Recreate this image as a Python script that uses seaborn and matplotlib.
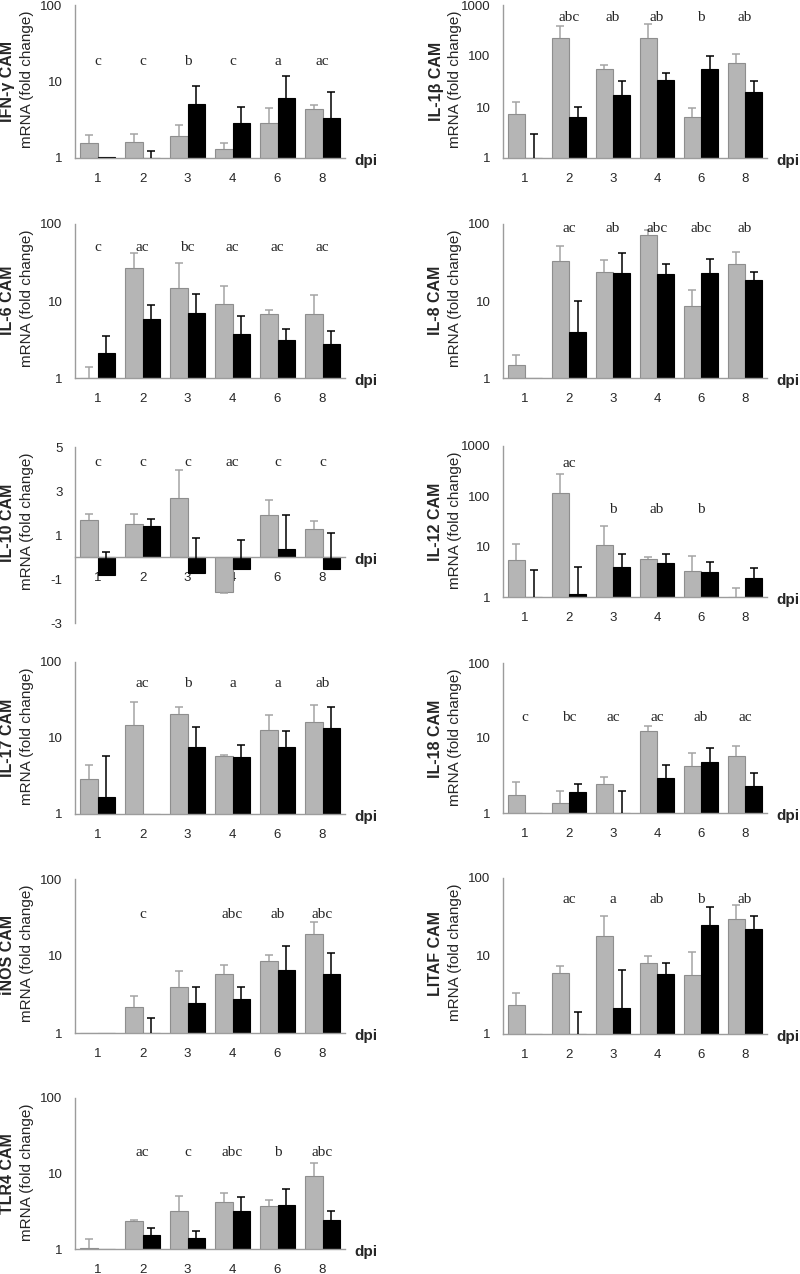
import numpy as np
import pandas as pd
import matplotlib.pyplot as plt
import seaborn as sns
from matplotlib.ticker import NullLocator

days = ['1', '2', '3', '4', '6', '8']

# bar heights and tops of the error bars (fold change)
ifng_grey = [1.56, 1.6, 1.95, 1.31, 2.9, 4.37]
ifng_grey_top = [2.0, 2.05, 2.7, 1.59, 4.45, 4.9]
ifng_black = [1.02, 1.0, 5.1, 2.83, 6.1, 3.3]
ifng_black_top = [np.nan, 1.25, 8.7, 4.65, 11.8, 7.4]
ifng_letters = ['c', 'c', 'b', 'c', 'a', 'ac']

il1b_grey = [7.2, 226, 55, 226, 6.4, 72]
il1b_grey_top = [12.7, 383, 67, 427, 9.7, 110]
il1b_black = [1.0, 6.4, 17.5, 34, 55, 20]
il1b_black_top = [3.0, 9.8, 33, 47, 100, 33]
il1b_letters = ['', 'abc', 'ab', 'ab', 'b', 'ab']

il6_grey = [1.0, 26.8, 14.7, 9.2, 6.8, 6.8]
il6_grey_top = [1.41, 42, 31, 15.5, 7.55, 12]
il6_black = [2.11, 5.8, 7.0, 3.68, 3.14, 2.73]
il6_black_top = [3.47, 9.0, 12.3, 6.3, 4.37, 4.1]
il6_letters = ['c', 'ac', 'bc', 'ac', 'ac', 'ac']

il8_grey = [1.46, 33.5, 23.5, 71, 8.5, 30]
il8_grey_top = [2.0, 52, 34, 83, 13.7, 43]
il8_black = [1.0, 4.0, 23, 22.4, 23, 18.7]
il8_black_top = [np.nan, 10.1, 42, 30, 35.5, 23.6]
il8_letters = ['', 'ac', 'ab', 'abc', 'abc', 'ab']

il10_grey = [1.7, 1.49, 2.68, -1.59, 1.9, 1.29]
il10_grey_top = [1.97, 1.94, 3.94, -1.64, 2.58, 1.64]
il10_black = [-0.83, 1.43, -0.73, -0.56, 0.35, -0.53]
il10_black_top = [0.23, 1.75, 0.86, 0.76, 1.91, 1.11]
il10_letters = ['c', 'c', 'c', 'ac', 'c', 'c']

il12_grey = [5.5, 115, 10.8, 5.65, 3.3, 1.0]
il12_grey_top = [11.2, 275, 25.8, 6.3, 6.4, 1.5]
il12_black = [1.0, 1.15, 4.0, 4.8, 3.1, 2.4]
il12_black_top = [3.4, 3.9, 7.1, 7.1, 4.9, 3.8]
il12_letters = ['', 'ac', 'b', 'ab', 'b', '']

il17_grey = [2.86, 14.8, 20.5, 5.8, 12.7, 16.4]
il17_grey_top = [4.45, 29.5, 25.8, 5.97, 20, 27]
il17_black = [1.67, 1.0, 7.5, 5.57, 7.5, 13.6]
il17_black_top = [5.8, np.nan, 14.1, 8.1, 12.4, 25.3]
il17_letters = ['', 'ac', 'b', 'a', 'a', 'ab']

il18_grey = [1.72, 1.38, 2.46, 12.4, 4.2, 5.7]
il18_grey_top = [2.6, 1.95, 3.0, 14.3, 6.3, 7.8]
il18_black = [1.01, 1.9, 1.0, 2.96, 4.8, 2.27]
il18_black_top = [np.nan, 2.4, 1.96, 4.4, 7.35, 3.4]
il18_letters = ['c', 'bc', 'ac', 'ac', 'ab', 'ac']

inos_grey = [1.0, 2.18, 3.9, 5.9, 8.7, 19.3]
inos_grey_top = [np.nan, 3.0, 6.4, 7.7, 10.4, 27.6]
inos_black = [1.01, 1.0, 2.45, 2.79, 6.6, 5.9]
inos_black_top = [np.nan, 1.57, 3.95, 3.95, 13.3, 11.1]
inos_letters = ['', 'c', '', 'abc', 'ab', 'abc']

litaf_grey = [2.33, 6.1, 18, 8.2, 5.7, 29.5]
litaf_grey_top = [3.36, 7.4, 32.6, 10, 11.3, 44.6]
litaf_black = [1.01, 1.0, 2.15, 5.95, 25.2, 22.4]
litaf_black_top = [np.nan, 1.9, 6.55, 8.2, 42, 33]
litaf_letters = ['', 'ac', 'a', 'ab', 'b', 'ab']

tlr4_grey = [1.03, 2.37, 3.2, 4.23, 3.74, 9.35]
tlr4_grey_top = [1.36, 2.4, 5.1, 5.5, 4.45, 13.8]
tlr4_black = [1.01, 1.55, 1.4, 3.2, 3.86, 2.4]
tlr4_black_top = [np.nan, 1.87, 1.71, 4.9, 6.3, 3.15]
tlr4_letters = ['', 'ac', 'c', 'abc', 'b', 'abc']

GREY = '#b5b5b5'
GREY_EDGE = '#8e8e8e'
GREY_ERR = '#a4a4a4'
AXIS = '#9c9c9c'

sns.set_style('white')
plt.rcParams['font.family'] = ['Liberation Sans', 'DejaVu Sans']

W, H = 800, 1274
fig = plt.figure(figsize=(W / 100, H / 100), dpi=100)


def add_ax(x0, x1, y0, y1):
    # pixel box -> figure fraction
    return fig.add_axes([x0 / W, 1 - y1 / H, (x1 - x0) / W, (y1 - y0) / H])


def panel(ax, name, grey, grey_top, black, black_top, letters, letter_y,
          ymax=100, log=True):
    df = pd.DataFrame({'dpi': days * 2,
                       'fold': grey + black,
                       'series': ['grey'] * 6 + ['black'] * 6})
    sns.barplot(data=df, x='dpi', y='fold', hue='series', order=days,
                hue_order=['grey', 'black'], palette=[GREY, 'black'],
                width=0.78, gap=0, saturation=1, errorbar=None,
                legend=False, ax=ax, linewidth=0.8)
    for cont, vals, tops, col, edge in zip(ax.containers, [grey, black],
                                           [grey_top, black_top],
                                           [GREY_ERR, 'black'],
                                           [GREY_EDGE, 'black']):
        for p in cont:
            p.set_edgecolor(edge)
        xs = np.array([p.get_x() + p.get_width() / 2 for p in cont])
        v = np.array(vals, float)
        t = np.array(tops, float)
        ok = ~np.isnan(t)
        ax.vlines(xs[ok], v[ok], t[ok], color=col, lw=1.1, zorder=3)
        ax.plot(xs[ok], t[ok], ls='none', marker='_', ms=5.5, mew=1.1,
                color=col, zorder=3)

    if np.ndim(letter_y) == 0:
        letter_y = [letter_y] * len(letters)
    for i, (lt, ly) in enumerate(zip(letters, letter_y)):
        ax.text(i, ly, lt, ha='center', va='center', size=11,
                family='Liberation Serif')

    ax.set_xlim(-0.5, 5.5)
    ax.set_xticks(range(6), days)
    ax.set_xticks(np.arange(-0.5, 6.0, 1.0), minor=True)
    ax.tick_params(axis='x', which='major', length=0, pad=11, labelsize=9.5)
    ax.tick_params(axis='x', which='minor', length=4, width=1, color=AXIS,
                   direction='out')
    ax.set_xlabel('')
    ax.set_ylabel('')
    for s in ['top', 'right']:
        ax.spines[s].set_visible(False)
    for s in ['left', 'bottom']:
        ax.spines[s].set_color(AXIS)
        ax.spines[s].set_linewidth(1)

    if log:
        ax.set_yscale('log')
        ax.set_ylim(1, ymax)
        ticks = [t for t in [1, 10, 100, 1000] if t <= ymax]
        ax.set_yticks(ticks, [str(t) for t in ticks])
        ax.yaxis.set_minor_locator(NullLocator())
        base = 1
    else:
        ax.set_ylim(-3, 5)
        ax.set_yticks([-3, -1, 1, 3, 5], ['-3', '-1', '1', '3', '5'])
        ax.spines['bottom'].set_position(('data', 0))
        base = 0
    ax.tick_params(axis='y', length=4, width=1, color=AXIS, labelsize=9.5,
                   pad=5, direction='out')

    ax.annotate('dpi', xy=(1, base), xycoords=('axes fraction', 'data'),
                xytext=(9, -3), textcoords='offset pixels', ha='left',
                va='center', weight='bold', size=11)
    ax.annotate(name, xy=(0, 1), xycoords='axes fraction',
                xytext=(-67, -76), textcoords='offset pixels', rotation=90,
                ha='center', va='center', weight='bold', size=11.5)
    ax.annotate('mRNA (fold change)', xy=(0, 1), xycoords='axes fraction',
                xytext=(-48, -74), textcoords='offset pixels', rotation=90,
                ha='center', va='center', size=11)


LX = (75, 345)
RX = (503, 767)

panel(add_ax(*LX, 5, 158), 'IFN-γ CAM', ifng_grey, ifng_grey_top,
      ifng_black, ifng_black_top, ifng_letters, 18)
panel(add_ax(*RX, 5, 158), 'IL-1β CAM', il1b_grey, il1b_grey_top,
      il1b_black, il1b_black_top, il1b_letters, 560, ymax=1000)
panel(add_ax(*LX, 224, 378), 'IL-6 CAM', il6_grey, il6_grey_top,
      il6_black, il6_black_top, il6_letters, 49)
panel(add_ax(*RX, 224, 378), 'IL-8 CAM', il8_grey, il8_grey_top,
      il8_black, il8_black_top, il8_letters, 87)
panel(add_ax(*LX, 447, 623), 'IL-10 CAM', il10_grey, il10_grey_top,
      il10_black, il10_black_top, il10_letters, 4.3, log=False)
panel(add_ax(*RX, 446, 597), 'IL-12 CAM', il12_grey, il12_grey_top,
      il12_black, il12_black_top, il12_letters,
      [56, 450, 56, 56, 56, 56], ymax=1000)
panel(add_ax(*LX, 662, 814), 'IL-17 CAM', il17_grey, il17_grey_top,
      il17_black, il17_black_top, il17_letters, 52)
panel(add_ax(*RX, 663, 813), 'IL-18 CAM', il18_grey, il18_grey_top,
      il18_black, il18_black_top, il18_letters, 19)
panel(add_ax(*LX, 879, 1033), 'iNOS CAM', inos_grey, inos_grey_top,
      inos_black, inos_black_top, inos_letters, 35)
panel(add_ax(*RX, 878, 1034), 'LITAF CAM', litaf_grey, litaf_grey_top,
      litaf_black, litaf_black_top, litaf_letters, 53)
panel(add_ax(*LX, 1098, 1249), 'TLR4 CAM', tlr4_grey, tlr4_grey_top,
      tlr4_black, tlr4_black_top, tlr4_letters, 19)

fig.savefig('out.png', dpi=100)
